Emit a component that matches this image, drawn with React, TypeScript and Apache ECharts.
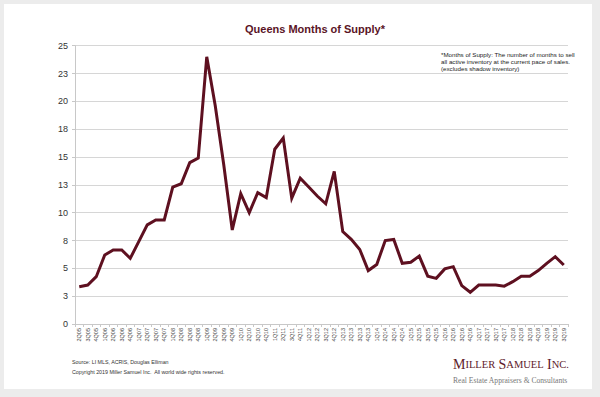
import React, { useEffect, useRef } from "react";
import * as echarts from "echarts";

const quarters: string[] = [
  "2Q05","3Q05","4Q05",
  "1Q06","2Q06","3Q06","4Q06",
  "1Q07","2Q07","3Q07","4Q07",
  "1Q08","2Q08","3Q08","4Q08",
  "1Q09","2Q09","3Q09","4Q09",
  "1Q10","2Q10","3Q10","4Q10",
  "1Q11","2Q11","3Q11","4Q11",
  "1Q12","2Q12","3Q12","4Q12",
  "1Q13","2Q13","3Q13","4Q13",
  "1Q14","2Q14","3Q14","4Q14",
  "1Q15","2Q15","3Q15","4Q15",
  "1Q16","2Q16","3Q16","4Q16",
  "1Q17","2Q17","3Q17","4Q17",
  "1Q18","2Q18","3Q18","4Q18",
  "1Q19","2Q19","3Q19",
];

const monthsOfSupply: number[] = [
  3.35, 3.5, 4.25,
  6.2, 6.65, 6.65, 5.9,
  7.4, 8.9, 9.35, 9.35,
  12.3, 12.6, 14.5, 14.9,
  24.0, 19.6, 14.3, 8.45,
  11.7, 10.0, 11.8, 11.35,
  15.7, 16.7, 11.3, 13.1,
  12.3, 11.5, 10.8, 13.7,
  8.3, 7.6, 6.7, 4.8,
  5.35, 7.5, 7.6, 5.45,
  5.55, 6.1, 4.3, 4.1,
  4.95, 5.15, 3.45, 2.85,
  3.5, 3.5, 3.5, 3.4,
  3.8, 4.3, 4.3, 4.8,
  5.45, 6.05, 5.3,
];

const titleText = "Queens Months of Supply*";
const noteLines = [
  "*Months of Supply: The number of months to sell",
  "all active inventory at the current pace of sales.",
  "(excludes shadow inventory)",
];
const footerLines = [
  "Source: LI MLS, ACRIS, Douglas Elliman",
  "Copyright 2019 Miller Samuel Inc.  All world wide rights reserved.",
];

export default function App() {
  const ref = useRef<HTMLDivElement>(null);
  useEffect(() => {
    if (!ref.current) return;
    const chart = echarts.init(ref.current, undefined, { renderer: "svg" });
    const maroon = "#5e1020";
    chart.setOption({
      animation: false,
      backgroundColor: "#ececec",
      title: {
        text: titleText,
        left: 310,
        top: 18,
        textAlign: "center",
        textStyle: {
          fontFamily: "Liberation Sans, Arial, sans-serif",
          fontSize: 11,
          fontWeight: "bold",
          color: "#5a1426",
        },
      },
      grid: { left: 75, right: 32, top: 45.7, bottom: 73, containLabel: false },
      xAxis: {
        type: "category",
        data: quarters,
        boundaryGap: true,
        axisLine: { lineStyle: { color: "#c8c8c8", width: 1 } },
        axisTick: { show: true, length: 3, lineStyle: { color: "#c8c8c8" } },
        axisLabel: {
          interval: 0,
          rotate: 90,
          fontSize: 5.5,
          color: "#444",
          margin: 4,
          fontFamily: "Liberation Sans, Arial, sans-serif",
        },
      },
      yAxis: {
        type: "value",
        min: 0,
        max: 25,
        interval: 2.5,
        axisLine: { show: true, lineStyle: { color: "#c8c8c8" } },
        axisTick: { show: true, length: 3, lineStyle: { color: "#c8c8c8" } },
        splitLine: { show: true, lineStyle: { color: "#d6d6d6", width: 1 } },
        axisLabel: {
          formatter: (v: number) => String(Math.round(v)),
          fontSize: 9,
          color: "#333",
          margin: 7,
          fontFamily: "Liberation Sans, Arial, sans-serif",
        },
      },
      series: [
        {
          type: "line",
          data: monthsOfSupply,
          symbol: "none",
          lineStyle: { color: maroon, width: 3, join: "miter" },
          z: 3,
        },
      ],
      graphic: [
        {
          type: "rect",
          z: -100,
          silent: true,
          shape: { x: 4, y: 4, width: 588, height: 385 },
          style: { fill: "#ffffff" },
        },
        ...noteLines.map((t, i) => ({
          type: "text",
          left: 441,
          top: 51 + i * 7.2,
          style: {
            text: t,
            fontSize: 6.2,
            fill: "#222",
            fontFamily: "Liberation Sans, Arial, sans-serif",
          },
        })),
        ...footerLines.map((t, i) => ({
          type: "text",
          left: 72,
          top: 359 + i * 10.5,
          style: {
            text: t,
            fontSize: 5.3,
            fill: "#333",
            fontFamily: "Liberation Sans, Arial, sans-serif",
          },
        })),
        {
          type: "text",
          left: 453,
          top: 357,
          style: {
            text: "{b|M}{s|ILLER} {b|S}{s|AMUEL} {b|I}{s|NC.}",
            rich: {
              b: { fontSize: 14, fill: "#5e1a2a", fontFamily: "Liberation Serif, Times New Roman, serif" },
              s: { fontSize: 10.5, fill: "#5e1a2a", fontFamily: "Liberation Serif, Times New Roman, serif" },
            },
            fill: "#5e1a2a",
          },
        },
        {
          type: "text",
          left: 453,
          top: 376,
          style: {
            text: "Real Estate Appraisers & Consultants",
            fontSize: 7.6,
            fill: "#777",
            fontFamily: "Liberation Serif, Times New Roman, serif",
          },
        },
      ],
    });
    return () => chart.dispose();
  }, []);
  return (
    <div
      ref={ref}
      style={{ position: "fixed", left: 0, top: 0, width: 600, height: 397 }}
    />
  );
}
